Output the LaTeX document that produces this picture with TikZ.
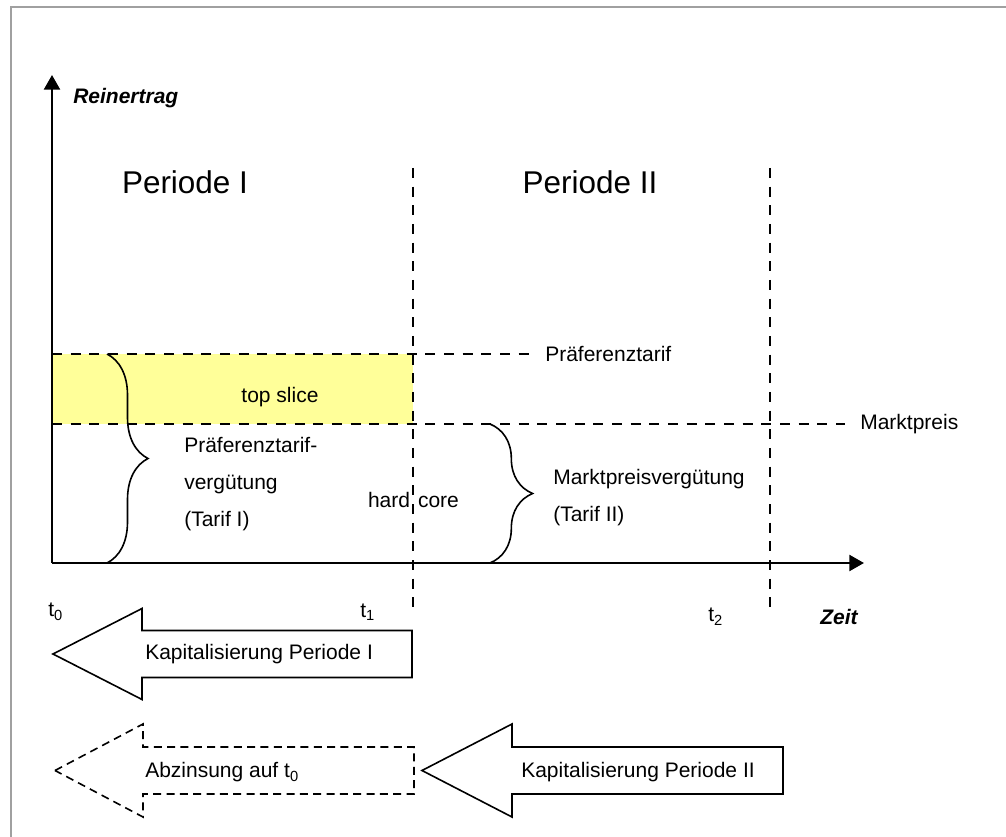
\documentclass[tikz,border=0pt]{standalone}
\usepackage{fontspec}
\setmainfont{Liberation Sans}
\usetikzlibrary{arrows.meta,decorations.pathreplacing}
\definecolor{frameGray}{RGB}{160,160,160}
\definecolor{sliceYellow}{RGB}{255,255,153}

\begin{document}
\begin{tikzpicture}[x=0.75pt,y=-0.75pt,
  lbl/.style={inner sep=0pt, font=\fontsize{15.75}{27.75}\selectfont},
  big/.style={inner sep=0pt, font=\fontsize{23.6}{28}\selectfont},
  axlbl/.style={inner sep=0pt, font=\fontsize{15.75}{18}\selectfont\bfseries\itshape},
  axisline/.style={line width=1.8pt, -{Triangle[length=11pt,width=12pt]}},
  guide/.style={line width=2pt, dash pattern=on 7.5pt off 6.5pt},
  curly/.style={line width=1.2pt, decorate, decoration={brace, amplitude=#1}},
  arrowbox/.style={line width=1.2pt, line join=miter},
  dashbox/.style={arrowbox, dash pattern=on 6pt off 4pt},
]
\useasboundingbox (0,0) rectangle (1006,837);

% frame
\draw[frameGray, line width=1.5pt] (11,837) -- (11,7.5) -- (1006,7.5);

% axes
\coordinate (O) at (52,563);
\coordinate (ytop) at (52,75);
\coordinate (xend) at (864,563);

% top slice area
\fill[sliceYellow] (52,354) rectangle (413,424);

% time boundaries
\coordinate (t1top) at (413,168);
\coordinate (t1bot) at (413,610);
\coordinate (t2top) at (770,168);
\coordinate (t2bot) at (770,610);
\draw[guide] (t1top) -- (t1bot);
\draw[guide] (t2top) -- (t2bot);

% price levels
\node[lbl, anchor=west] (pt) at (545,354) {Präferenztarif};
\node[lbl, anchor=west] (mp) at (860,424) {Marktpreis};
\coordinate (ptstart) at (52,354);
\coordinate (mpstart) at (52,424);
\draw[guide] (ptstart) -- (pt.west -| 533,0);
\draw[guide] (mpstart) -- (mp.west -| 845,0);

\draw[axisline] (O) -- (ytop);
\draw[axisline] (O) -- (xend);

% axis labels
\node[axlbl, anchor=west] (yl) at (73,98) {Reinertrag};
\node[axlbl, anchor=west] (xl) at (820,617) {Zeit};
\node[lbl, anchor=west] (l0) at (48,612) {t\textsubscript{0}};
\node[lbl, anchor=west] (l1) at (360,612) {t\textsubscript{1}};
\node[lbl, anchor=west] (l2) at (708,617) {t\textsubscript{2}};

% periods
\node[big] (p1) at (185,182) {Periode I};
\node[big] (p2) at (590,182) {Periode II};

% area labels
\node[lbl] (ts) at (280,397) {top slice};
\node[lbl, anchor=west, align=left] (tar1) at (184,484) {Präferenztarif-\\vergütung\\(Tarif I)};
\node[lbl] (hc) at (413.5,500) {hard\hspace{6pt}core};
\node[lbl, anchor=west, align=left] (tar2) at (553,498) {Marktpreisvergütung\\(Tarif II)};

% braces
\draw[curly=30.75pt] (107,354) -- (107,563);
\draw[curly=32pt] (490,424) -- (490,563);

% capitalisation arrows
\coordinate (a1tip) at (53,654);
\draw[arrowbox] (a1tip) -- (142,608.5) -- (142,630.5) -- (412,630.5)
  -- (412,677.5) -- (142,677.5) -- (142,699.5) -- cycle;
\node[lbl, anchor=west] (k1) at (145,654) {Kapitalisierung Periode I};

\coordinate (a2tip) at (55,770.5);
\draw[dashbox] (a2tip) -- (143,724) -- (143,747) -- (414,747)
  -- (414,794) -- (143,794) -- (143,817) -- cycle;
\node[lbl, anchor=west] (ab) at (145,772) {Abzinsung auf t\textsubscript{0}};

\coordinate (a3tip) at (422,770.5);
\draw[arrowbox] (a3tip) -- (512,724) -- (512,747) -- (783,747)
  -- (783,794) -- (512,794) -- (512,817) -- cycle;
\node[lbl, anchor=west] (k2) at (521,772) {Kapitalisierung Periode II};
\end{tikzpicture}
\end{document}
